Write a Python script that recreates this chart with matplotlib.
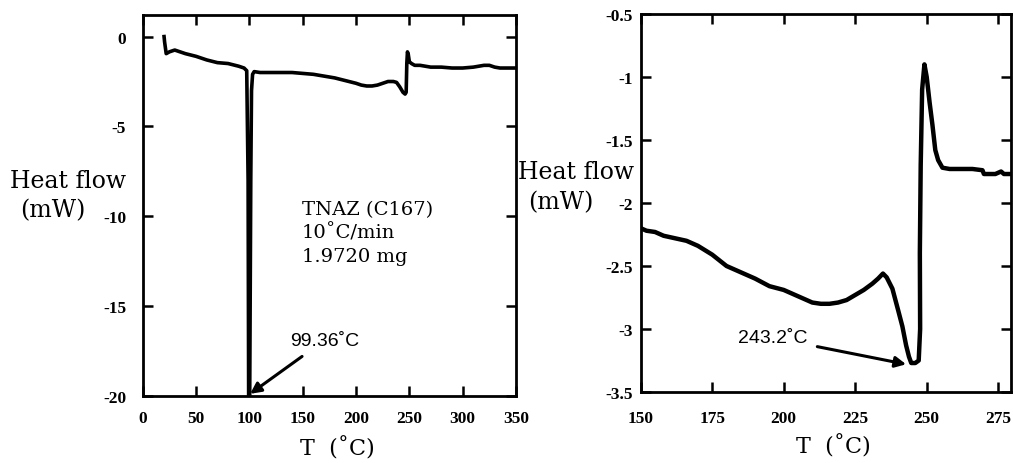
import matplotlib
matplotlib.use("Agg")
import matplotlib.pyplot as plt

# left panel: full DSC trace of TNAZ
t_left = [20, 20.5, 22, 25, 30, 40, 50, 60, 70, 80, 90, 95, 97.5, 98.8, 99.3, 100.3, 101.3, 102,
          103, 104.5, 110, 120, 130, 140, 150, 160, 170, 180, 190, 200, 205, 210, 215, 220, 225,
          230, 235, 238, 241, 244, 246, 247, 247.6, 248.2, 249, 250, 252, 255, 260, 270, 280, 290,
          300, 310, 320, 325, 330, 335, 340, 350]
q_left = [0, -0.3, -0.95, -0.85, -0.75, -0.95, -1.1, -1.3, -1.45, -1.5, -1.65, -1.75, -1.9, -8,
          -20, -20, -8, -3, -2.1, -1.95, -2.0, -2.0, -2.0, -2.0, -2.05, -2.1, -2.2, -2.3, -2.45,
          -2.6, -2.7, -2.75, -2.75, -2.7, -2.6, -2.5, -2.5, -2.55, -2.8, -3.1, -3.2, -3.1, -1.5,
          -0.85, -1.0, -1.4, -1.5, -1.6, -1.6, -1.7, -1.7, -1.75, -1.75, -1.7, -1.6, -1.6, -1.7,
          -1.75, -1.75, -1.75]

# right panel: zoom on the decomposition region
t_right = [150, 152, 155, 158, 162, 166, 170, 175, 180, 185, 190, 195, 200, 205, 210, 213, 216,
           219, 222, 225, 228, 231, 233, 234.7, 236, 238, 240, 241.5, 242.8, 243.8, 244.6, 246,
           247.2, 247.7, 247.6, 247.9, 248.4, 249.2, 250, 251, 252, 253, 254, 255.5, 258, 262,
           266, 269.5, 270, 274, 276, 277, 279.5]
q_right = [-2.2, -2.22, -2.23, -2.26, -2.28, -2.3, -2.34, -2.41, -2.5, -2.55, -2.6, -2.66, -2.69,
           -2.74, -2.79, -2.8, -2.8, -2.79, -2.77, -2.73, -2.69, -2.64, -2.6, -2.56, -2.59, -2.68,
           -2.85, -2.98, -3.13, -3.22, -3.27, -3.27, -3.25, -3.0, -2.4, -1.7, -1.1, -0.9, -1.0,
           -1.2, -1.38, -1.58, -1.66, -1.72, -1.73, -1.73, -1.73, -1.74, -1.77, -1.77, -1.75,
           -1.77, -1.77]

left_xticks = [0, 50, 100, 150, 200, 250, 300, 350]
left_yticks = [0, -5, -10, -15, -20]
right_xticks = [150, 175, 200, 225, 250, 275]
right_yticks = [-0.5, -1, -1.5, -2, -2.5, -3, -3.5]

plt.rcParams['font.family'] = 'DejaVu Serif'

fig = plt.figure(figsize=(10.13, 4.64), dpi=100)
ax1 = fig.add_axes([0.1409, 0.1444, 0.3685, 0.8211])
ax2 = fig.add_axes([0.6325, 0.1530, 0.3656, 0.8147])


def style_axes(ax, xticks, yticks, xpad, ypad):
    ax.set_xticks(xticks)
    ax.set_yticks(yticks)
    ax.set_xticklabels(['%g' % v for v in xticks])
    ax.set_yticklabels(['%g' % v for v in yticks])
    ax.tick_params(direction='in', top=True, right=True, length=7, width=1.8,
                   labelsize=12.5)
    ax.tick_params(axis='x', pad=xpad)
    ax.tick_params(axis='y', pad=ypad)
    for lab in ax.get_xticklabels() + ax.get_yticklabels():
        lab.set_fontfamily('Liberation Serif')
        lab.set_fontweight('bold')
    for sp in ax.spines.values():
        sp.set_linewidth(2)


ax1.plot(t_left, q_left, color='black', linewidth=2.6)
ax1.set_xlim(0, 350)
ax1.set_ylim(-20, 1.2)
style_axes(ax1, left_xticks, left_yticks, 10, 12)
ax1.text(149, -9.1, "TNAZ (C167)\n10\u02daC/min\n1.9720 mg", fontsize=14,
         va='top', ha='left', linespacing=1.35, family='DejaVu Serif')
ax1.annotate("99.36\u02daC", xy=(100.7, -19.88), xytext=(138, -16.9),
             fontsize=14, family='Liberation Sans', va='center', ha='left',
             arrowprops=dict(arrowstyle='-|>', color='black', lw=2.2, mutation_scale=16,
                             shrinkA=6, shrinkB=0))

ax2.plot(t_right, q_right, color='black', linewidth=3.2)
ax2.set_xlim(150, 279.5)
ax2.set_ylim(-3.5, -0.5)
style_axes(ax2, right_xticks, right_yticks, 13, 6)
ax2.annotate("243.2\u02daC", xy=(242.8, -3.28), xytext=(208.4, -3.07),
             fontsize=14, family='Liberation Sans', va='center', ha='right',
             arrowprops=dict(arrowstyle='-|>', color='black', lw=2.2, mutation_scale=16,
                             shrinkA=5, shrinkB=0))

# axis titles placed like the scanned figure
fig.text(10 / 1013, 1 - 181 / 464, "Heat flow", fontsize=17, ha='left', va='center')
fig.text(20 / 1013, 1 - 211 / 464, "(mW)", fontsize=17, ha='left', va='center')
fig.text(518 / 1013, 1 - 173 / 464, "Heat flow", fontsize=17, ha='left', va='center')
fig.text(528 / 1013, 1 - 203 / 464, "(mW)", fontsize=17, ha='left', va='center')
fig.text(337 / 1013, 1 - 449 / 464, "T  (\u02daC)", fontsize=16, ha='center', va='center')
fig.text(833 / 1013, 1 - 447 / 464, "T  (\u02daC)", fontsize=16, ha='center', va='center')

fig.savefig("out.png", dpi=100)
